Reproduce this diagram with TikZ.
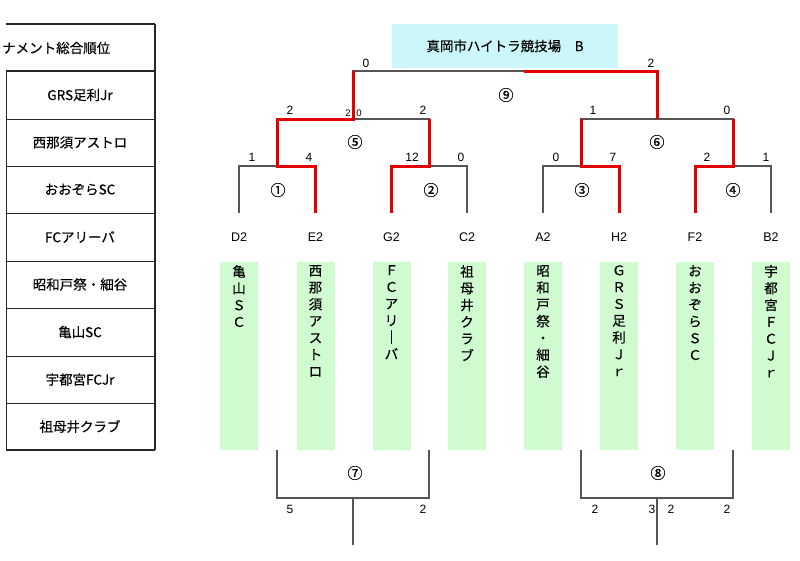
\documentclass[tikz,border=0pt]{standalone}
\usepackage{fontspec}
\setmainfont{Noto Sans CJK JP}[FakeBold=0.35]
\newfontfamily\latinf{Liberation Sans}
\definecolor{lineg}{RGB}{85,85,85}
\definecolor{winred}{RGB}{228,0,0}
\definecolor{titlecyan}{RGB}{204,247,250}
\definecolor{barg}{RGB}{208,250,208}
\begin{document}
\begin{tikzpicture}[x=1pt,y=-1pt,
 gline/.style={draw=lineg,line width=1.2pt},
 rline/.style={draw=winred,line width=3pt,line cap=butt,line join=miter},
 tline/.style={draw=black!85,line width=1pt},
 tthick/.style={draw=black!85,line width=2pt},
 score/.style={font=\latinf\fontsize{12}{12}\selectfont,inner sep=0},
 smallscore/.style={font=\latinf\fontsize{9.5}{10}\selectfont,inner sep=0},
 circ/.style={font=\fontsize{15}{15}\selectfont,inner sep=0},
 leaflab/.style={font=\latinf\fontsize{12.5}{12.5}\selectfont,inner sep=0},
 tcell/.style={font=\fontsize{13.5}{14}\selectfont,inner sep=0},
 barbox/.style={fill=barg,draw=none,minimum width=38pt,minimum height=188pt,inner sep=0,anchor=north},
 vtext/.style={font=\fontsize{13.5}{16.8}\selectfont,align=center,inner sep=0,anchor=north},
 titlebox/.style={fill=titlecyan,draw=none,minimum width=226pt,minimum height=44pt,inner sep=0,font=\fontsize{13.5}{14}\selectfont}
]
\useasboundingbox (0,0) rectangle (800,560);
\fill[white] (0,0) rectangle (800,560);

% ---------- left table ----------
\draw[tthick] (6,24) -- (155,24);
\draw[tthick] (6,71) -- (155,71);
\draw[tthick] (6,450) -- (155,450);
\draw[tthick] (155,24) -- (155,450);
\draw[tline] (6,71) -- (6,450);
\foreach \yy in {119,166,213,261,308,356,403} \draw[tline] (6,\yy) -- (155,\yy);
\node[tcell,anchor=west] (hdr) at (2,48) {ナメント総合順位};
\node[tcell] (t1) at (80,95) {GRS足利Jr};
\node[tcell] (t2) at (80,142.5) {西那須アストロ};
\node[tcell] (t3) at (80,189.5) {おおぞらSC};
\node[tcell] (t4) at (80,237) {FCアリーバ};
\node[tcell] (t5) at (80,284.5) {昭和戸祭・細谷};
\node[tcell] (t6) at (80,332) {亀山SC};
\node[tcell] (t7) at (80,379.5) {宇都宮FCJr};
\node[tcell] (t8) at (80,426.5) {祖母井クラブ};

% ---------- title ----------
\node[titlebox] (title) at (505,46) {真岡市ハイトラ競技場　B};

% ---------- coordinates ----------
\coordinate (l1) at (239,213);
\coordinate (l2) at (315.5,213);
\coordinate (l3) at (391.5,213);
\coordinate (l4) at (467,213);
\coordinate (l5) at (543,213);
\coordinate (l6) at (619,213);
\coordinate (l7) at (695,213);
\coordinate (l8) at (771,213);
\coordinate (j1) at (277,166);
\coordinate (j2) at (429,166);
\coordinate (j3) at (581,166);
\coordinate (j4) at (733,166);
\coordinate (k1) at (277,119);
\coordinate (k2) at (429,119);
\coordinate (k3) at (581,119);
\coordinate (k4) at (733,119);
\coordinate (j5) at (353,119);
\coordinate (j6) at (657,119);
\coordinate (k5) at (353,71);
\coordinate (k6) at (657,71);
\coordinate (r9) at (524,71);

% ---------- black bracket ----------
\draw[gline] (l1) |- (j1) -| (l2);
\draw[gline] (l3) |- (j2) -| (l4);
\draw[gline] (l5) |- (j3) -| (l6);
\draw[gline] (l7) |- (j4) -| (l8);
\draw[gline] (j1) -- (k1) -- (k2) -- (j2);
\draw[gline] (j3) -- (k3) -- (k4) -- (j4);
\draw[gline] (j5) -- (k5) -- (k6) -- (j6);

% ---------- winners (red) ----------
\draw[rline] (l2) |- (j1) -- (k1) -- (j5) -- (k5);
\draw[rline] (l3) |- (j2) -- (k2);
\draw[rline] (l6) |- (j3) -- (k3);
\draw[rline] (l7) |- (j4) -- (k4);
\draw[rline] (j6) -- (k6) -- (r9);

% ---------- leaf labels ----------
\node[leaflab] (d2) at (239,237) {D2};
\node[leaflab] (e2) at (315.5,237) {E2};
\node[leaflab] (g2) at (391.5,237) {G2};
\node[leaflab] (c2) at (467,237) {C2};
\node[leaflab] (a2) at (543,237) {A2};
\node[leaflab] (h2) at (619,237) {H2};
\node[leaflab] (f2) at (695,237) {F2};
\node[leaflab] (b2) at (771,237) {B2};

% ---------- scores ----------
\node[score] (s1a) at (252,157) {1};
\node[score] (s1b) at (309,157) {4};
\node[score] (s2a) at (412,157) {12};
\node[score] (s2b) at (461,157) {0};
\node[score] (s3a) at (556,157) {0};
\node[score] (s3b) at (613,157) {7};
\node[score] (s4a) at (707,157) {2};
\node[score] (s4b) at (766,157) {1};
\node[score] (s5a) at (290,110) {2};
\node[score] (s5b) at (423,110) {2};
\node[smallscore] (s5c) at (348,113) {2};
\node[smallscore] (s5d) at (359,113) {0};
\node[score] (s6a) at (593,110) {1};
\node[score] (s6b) at (727,110) {0};
\node[score] (s9a) at (366,63) {0};
\node[score] (s9b) at (651,63) {2};

% ---------- match numbers ----------
\node[circ] (c1) at (278,190) {①};
\node[circ] (c2) at (431,190) {②};
\node[circ] (c3) at (582,190) {③};
\node[circ] (c4) at (733,190) {④};
\node[circ] (c5) at (355,142) {⑤};
\node[circ] (c6) at (657,142) {⑥};
\node[circ] (c9) at (506,95) {⑨};

% ---------- team bars ----------
\node[barbox] (b1) at (239,262) {};
\node[barbox] (b2) at (315.5,262) {};
\node[barbox] (b3) at (391.5,262) {};
\node[barbox] (b4) at (467,262) {};
\node[barbox] (b5) at (543,262) {};
\node[barbox] (b6) at (619,262) {};
\node[barbox] (b7) at (695,262) {};
\node[barbox] (b8) at (771,262) {};
\node[vtext] (v1) at (239,265) {亀\\山\\Ｓ\\Ｃ};
\node[vtext] (v2) at (315.5,265) {西\\那\\須\\ア\\ス\\ト\\ロ};
\node[vtext] (v3) at (391.5,265) {Ｆ\\Ｃ\\ア\\リ\\｜\\バ};
\node[vtext] (v4) at (467,265) {祖\\母\\井\\ク\\ラ\\ブ};
\node[vtext] (v5) at (543,265) {昭\\和\\戸\\祭\\・\\細\\谷};
\node[vtext] (v6) at (619,265) {Ｇ\\Ｒ\\Ｓ\\足\\利\\Ｊ\\ｒ};
\node[vtext] (v7) at (695,265) {お\\お\\ぞ\\ら\\Ｓ\\Ｃ};
\node[vtext] (v8) at (771,265) {宇\\都\\宮\\Ｆ\\Ｃ\\Ｊ\\ｒ};

% ---------- lower brackets ----------
\coordinate (p7a) at (277,450);
\coordinate (p7b) at (429,450);
\coordinate (q7) at (353,498);
\coordinate (e7) at (353,545);
\coordinate (p8a) at (581,450);
\coordinate (p8b) at (733,450);
\coordinate (q8) at (657,498);
\coordinate (e8) at (657,545);
\draw[gline] (p7a) |- (q7) -| (p7b);
\draw[gline] (q7) -- (e7);
\draw[gline] (p8a) |- (q8) -| (p8b);
\draw[gline] (q8) -- (e8);
\node[circ] (c7) at (355,473) {⑦};
\node[circ] (c8) at (658,473) {⑧};
\node[score] (s7a) at (290,509) {5};
\node[score] (s7b) at (423,509) {2};
\node[score] (s8a) at (595,509) {2};
\node[score] (s8b) at (652,509) {3};
\node[score] (s8c) at (671,509) {2};
\node[score] (s8d) at (727,509) {2};
\end{tikzpicture}
\end{document}
